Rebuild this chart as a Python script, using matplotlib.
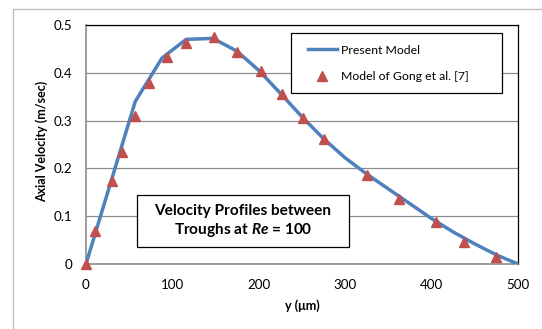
import matplotlib
matplotlib.use("Agg")
import matplotlib.pyplot as plt
from matplotlib.patches import Rectangle

# present model (line)
model_y_um = [0, 57, 88, 116, 147, 175, 200, 225, 250, 275, 300, 325, 350, 375, 400, 425, 450, 475, 500]
model_vel = [0, 0.340, 0.431, 0.470, 0.472, 0.445, 0.405, 0.357, 0.308, 0.262, 0.222, 0.188,
             0.157, 0.126, 0.095, 0.067, 0.042, 0.019, 0]

# Gong et al. [7] (triangles)
gong_y_um = [0, 10.4, 29.7, 41.3, 56.7, 73, 94, 116, 148, 175, 203, 227, 251, 275.5,
             325, 362.6, 405, 437.5, 475]
gong_vel = [0, 0.070, 0.174, 0.235, 0.310, 0.378, 0.434, 0.463, 0.474, 0.443, 0.404, 0.355,
            0.305, 0.261, 0.186, 0.136, 0.087, 0.047, 0.014]

x_ticks = [0, 100, 200, 300, 400, 500]
y_ticks = [0, 0.1, 0.2, 0.3, 0.4, 0.5]
y_ticklabels = ["0", "0.1", "0.2", "0.3", "0.4", "0.5"]

plt.rcParams["font.family"] = ["Lato", "DejaVu Sans"]
plt.rcParams["mathtext.fontset"] = "custom"
plt.rcParams["mathtext.it"] = "Lato:italic:bold"
plt.rcParams["mathtext.rm"] = "Lato:bold"

W, H = 542, 329
fig = plt.figure(figsize=(W / 100, H / 100), dpi=100)


def px_rect(x0, y0, x1, y1, **kw):
    # rectangle given in image pixels (origin top-left)
    return Rectangle((x0 / W, 1 - y1 / H), (x1 - x0) / W, (y1 - y0) / H,
                     transform=fig.transFigure, **kw)


# outer chart-area border (cropped on right and bottom)
fig.patches.append(px_rect(13, 9, 600, 400, fill=False, edgecolor="#bfbfbf", linewidth=1.0))

ax = fig.add_axes([86 / W, 1 - 264 / H, 432 / W, 239 / H])
ax.plot(model_y_um, model_vel, color="#4f81bd", linewidth=2.5, label="Present Model", zorder=3)
ax.plot(gong_y_um, gong_vel, linestyle="none", marker="^", markersize=7.5, color="#c0504d",
        label="Model of Gong et al. [7]", zorder=4, clip_on=False)

ax.set_xlim(0, 500)
ax.set_ylim(0, 0.5)
ax.set_xticks(x_ticks)
ax.set_yticks(y_ticks)
ax.set_yticklabels(y_ticklabels)
ax.tick_params(length=0, labelsize=9.6, colors="black")
ax.tick_params(axis="x", pad=11)
ax.tick_params(axis="y", pad=10)
ax.grid(axis="y", color="#8c8c8c", linewidth=0.9)
ax.set_axisbelow(True)
for s in ("top", "right"):
    ax.spines[s].set_color("black")
    ax.spines[s].set_linewidth(0.9)
for s in ("left", "bottom"):
    ax.spines[s].set_color("#8c8c8c")
    ax.spines[s].set_linewidth(1.2)

ax.set_ylabel("Axial Velocity (m/sec)", fontsize=9, fontweight="bold")
ax.yaxis.set_label_coords(-0.088, 0.512)
ax.set_xlabel("y (\u03bcm)", fontsize=9, fontweight="bold", labelpad=6)

# legend frame drawn separately so padding can differ per side
ax.add_patch(px_rect(290.7, 33.3, 501.7, 92.7, facecolor="white", edgecolor="black",
                     linewidth=0.9, zorder=4.5, clip_on=False))
leg = ax.legend(loc="upper left", bbox_to_anchor=(307.5 / W, 1 - 44.5 / H),
                bbox_transform=fig.transFigure, fontsize=8.8, frameon=False,
                borderaxespad=0, borderpad=0, labelspacing=1.25, handlelength=2.45,
                handletextpad=0.3)
leg.set_zorder(5)

# annotation box
fig.patches.append(px_rect(137, 195, 349, 247, facecolor="white", edgecolor="black",
                           linewidth=0.9, zorder=5))
fig.text(243 / W, 1 - 221.5 / H, "Velocity Profiles between\nTroughs at $Re$ = 100",
         ha="center", va="center", fontsize=11.1, fontweight="bold", linespacing=1.3, zorder=6)

fig.savefig("out.png", dpi=100)
